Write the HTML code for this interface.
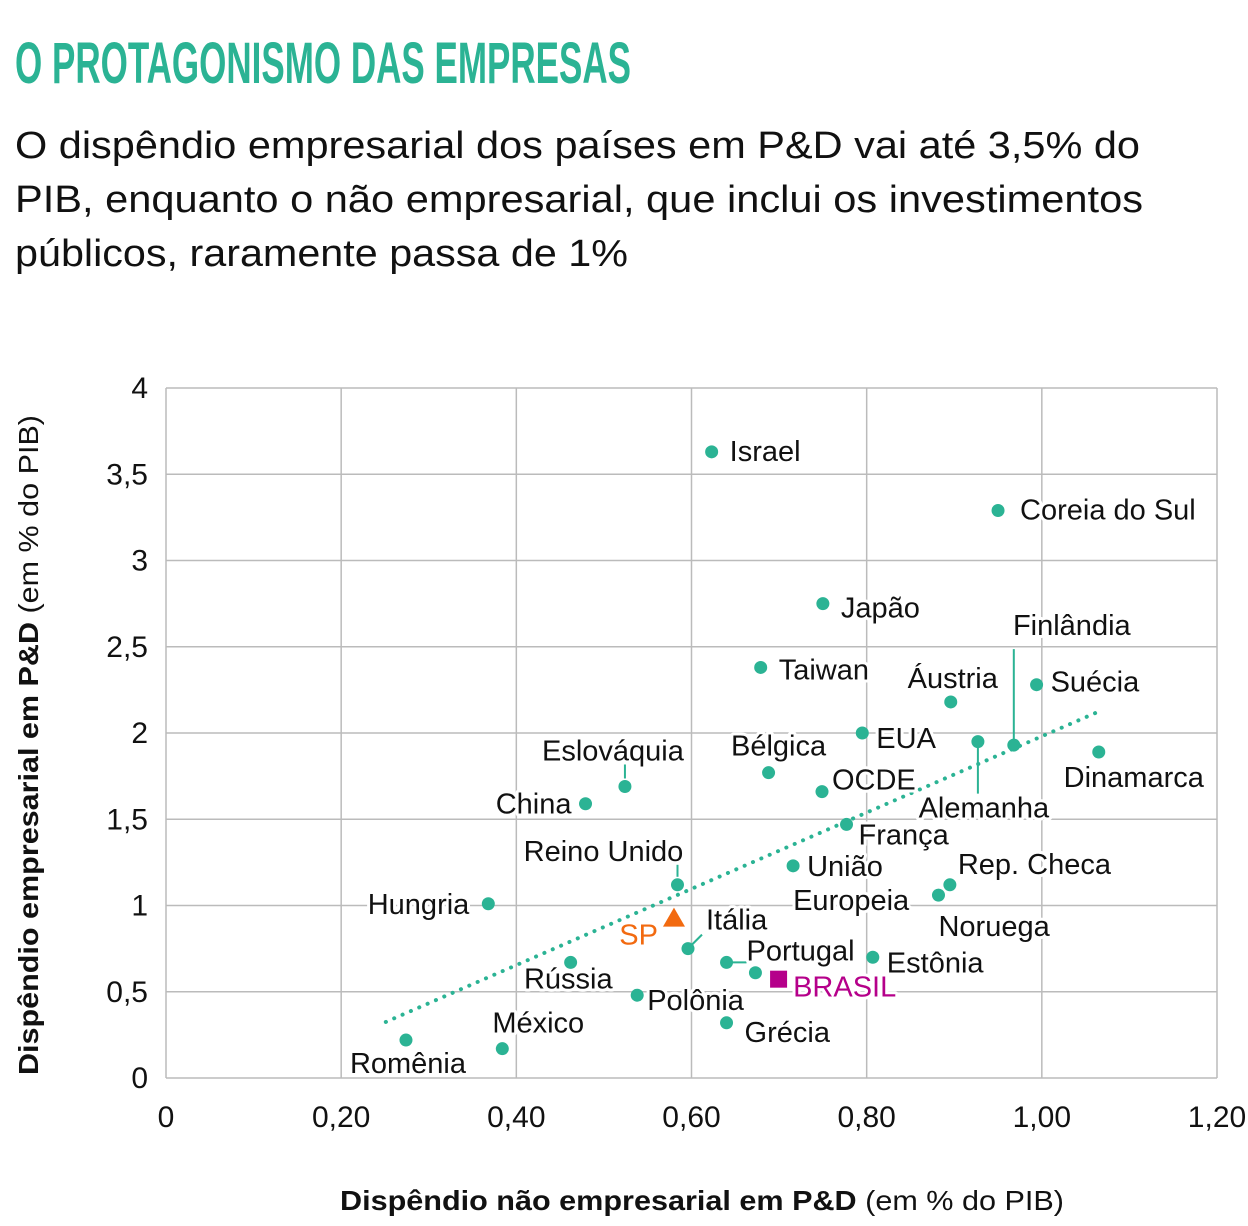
<!DOCTYPE html>
<html><head><meta charset="utf-8"><style>
body{margin:0;background:#fff;width:1248px;height:1221px;overflow:hidden;font-family:"Liberation Sans",sans-serif}
.lbl{font-size:29px;fill:#111;paint-order:stroke;stroke:#fff;stroke-width:6px;stroke-linejoin:round}
.tick{font-size:30px;fill:#111}
</style></head><body>
<svg id="chart" width="1248" height="1221" xmlns="http://www.w3.org/2000/svg">
<text x="15" y="83" font-size="58" font-weight="bold" fill="#2bb394" textLength="616" lengthAdjust="spacingAndGlyphs">O PROTAGONISMO DAS EMPRESAS</text>
<g font-size="38" fill="#111">
<text x="15" y="158" textLength="1125" lengthAdjust="spacingAndGlyphs">O dispêndio empresarial dos países em P&amp;D vai até 3,5% do</text>
<text x="15" y="212" textLength="1128" lengthAdjust="spacingAndGlyphs">PIB, enquanto o não empresarial, que inclui os investimentos</text>
<text x="15" y="266" textLength="613" lengthAdjust="spacingAndGlyphs">públicos, raramente passa de 1%</text>
</g>
<g id="grid"></g><g id="trend"></g><g id="leaders"></g><g id="marks"></g><g id="labels"></g>
<text transform="translate(38,1075) rotate(-90)" font-size="28" fill="#111" textLength="660" lengthAdjust="spacingAndGlyphs"><tspan font-weight="bold">Dispêndio empresarial em P&amp;D</tspan> (em % do PIB)</text>
<text x="340" y="1210" font-size="28" fill="#111" textLength="724" lengthAdjust="spacingAndGlyphs"><tspan font-weight="bold">Dispêndio não empresarial em P&amp;D</tspan> (em % do PIB)</text>
</svg>
<script>
const xTicks=[0,0.2,0.4,0.6,0.8,1.0,1.2];
const xTickLabels=["0","0,20","0,40","0,60","0,80","1,00","1,20"];
const yTicks=[0,0.5,1,1.5,2,2.5,3,3.5,4];
const yTickLabels=["0","0,5","1","1,5","2","2,5","3","3,5","4"];
const countries=["Israel","Coreia do Sul","Japão","Taiwan","Áustria","Suécia","EUA","Alemanha","Finlândia","Dinamarca","Bélgica","OCDE","Eslováquia","China","França","União Europeia","Rep. Checa","Noruega","Reino Unido","Hungria","Itália","Portugal","","Estônia","Rússia","Polônia","Grécia","México","Romênia"];
const xVals=[0.623,0.950,0.750,0.679,0.896,0.994,0.795,0.927,0.968,1.065,0.688,0.749,0.524,0.479,0.777,0.716,0.895,0.882,0.584,0.368,0.596,0.640,0.673,0.807,0.462,0.538,0.640,0.384,0.274];
const yVals=[3.63,3.29,2.75,2.38,2.18,2.28,2.0,1.95,1.93,1.89,1.77,1.66,1.69,1.59,1.47,1.23,1.12,1.06,1.12,1.01,0.75,0.67,0.61,0.70,0.67,0.48,0.32,0.17,0.22];
const spX=[0.580],spY=[0.93];
const brX=[0.700],brY=[0.57];
const trendX=[0.251,1.063],trendY=[0.325,2.12];
const layout=[["start",18,9],["start",22,9],["start",18,14],["start",18,12],["middle",2,-14],["start",14,7],["start",14,15],["middle",6,76,[[0,5],[0,52]]],["middle",58,-110,[[0,-4],[0,-96]]],["middle",35,35],["middle",10,-17],["start",10,-2],["middle",-12,-26,[[0,-8],[0,-22]]],["end",-14,10],["start",12,20],["start",14,10],["start",8,-11],["start",0,41],["middle",-74,-24,[[0,-8],[0,-20]]],["end",-19,10],["start",18,-19,[[0,0],[14,-14]]],["start",20,-2,[[0,0],[20,0]]],["start",0,0],["start",14,15],["end",42,26],["start",10,15],["start",18,19],["start",-10,-16],["middle",2,33]];
const X0=166,X1=1217,Y0=1078,Y1=388;
const sx=v=>X0+(X1-X0)*v/1.2, sy=v=>Y0-(Y0-Y1)*v/4;
const NS="http://www.w3.org/2000/svg";
function mk(tag,attrs,parent){const e=document.createElementNS(NS,tag);for(const k in attrs)e.setAttribute(k,attrs[k]);document.getElementById(parent).appendChild(e);return e;}
xTicks.forEach((t,i)=>{
 const l=mk("line",{x1:sx(t),x2:sx(t),y1:Y1,y2:Y0,stroke:"#bbb","stroke-width":1.5},"grid");
 
 
 const tx=mk("text",{x:sx(t),y:1127,"text-anchor":"middle",class:"tick"},"grid");tx.textContent=xTickLabels[i];
 
 
});
yTicks.forEach((t,i)=>{
 const l=mk("line",{x1:X0,x2:X1,y1:sy(t),y2:sy(t),stroke:"#bbb","stroke-width":1.5},"grid");
 
 
 const tx=mk("text",{x:148,y:sy(t)+10,"text-anchor":"end",class:"tick"},"grid");tx.textContent=yTickLabels[i];
 
 
});
const tl=mk("line",{x1:sx(trendX[0]),y1:sy(trendY[0]),x2:sx(trendX[1]),y2:sy(trendY[1]),stroke:"#2bb394","stroke-width":4,"stroke-dasharray":"0.1 9","stroke-linecap":"round"},"trend");


countries.forEach((c,i)=>{
 const px=sx(xVals[i]),py=sy(yVals[i]);
 const L=layout[i];
 if(L[3]){const ln=mk("line",{x1:px+L[3][0][0],y1:py+L[3][0][1],x2:px+L[3][1][0],y2:py+L[3][1][1],stroke:"#2bb394","stroke-width":2},"leaders");
  
  }
 const d=mk("circle",{cx:px,cy:py,r:6.5,fill:"#2bb394"},"marks");
 
 
 if(c){
  const t=mk("text",{x:px+L[1],y:py+L[2],"text-anchor":L[0],class:"lbl"},"labels");
  if(c==="União Europeia"){t.innerHTML='<tspan x="'+(px+L[1])+'">União</tspan><tspan x="'+(px+L[1]-14)+'" dy="34">Europeia</tspan>';}
  else t.textContent=c;
  
  
 }
});
const spx=sx(spX[0]),spy=sy(spY[0]);
const tri=mk("polygon",{points:`${spx},${spy-10} ${spx+11},${spy+9} ${spx-11},${spy+9}`,fill:"#f26a10"},"marks");


const spt=mk("text",{x:spx-16,y:spy+27,"text-anchor":"end",class:"lbl",style:"fill:#f26a10"},"labels");spt.textContent="SP";


const bx=sx(brX[0]),by=sy(brY[0]);
const sq=mk("rect",{x:bx-9,y:by-9,width:17,height:17,fill:"#b5008a"},"marks");


const bt=mk("text",{x:bx+14,y:by+17,class:"lbl",style:"fill:#b5008a"},"labels");bt.textContent="BRASIL";


</script>
</body></html>
